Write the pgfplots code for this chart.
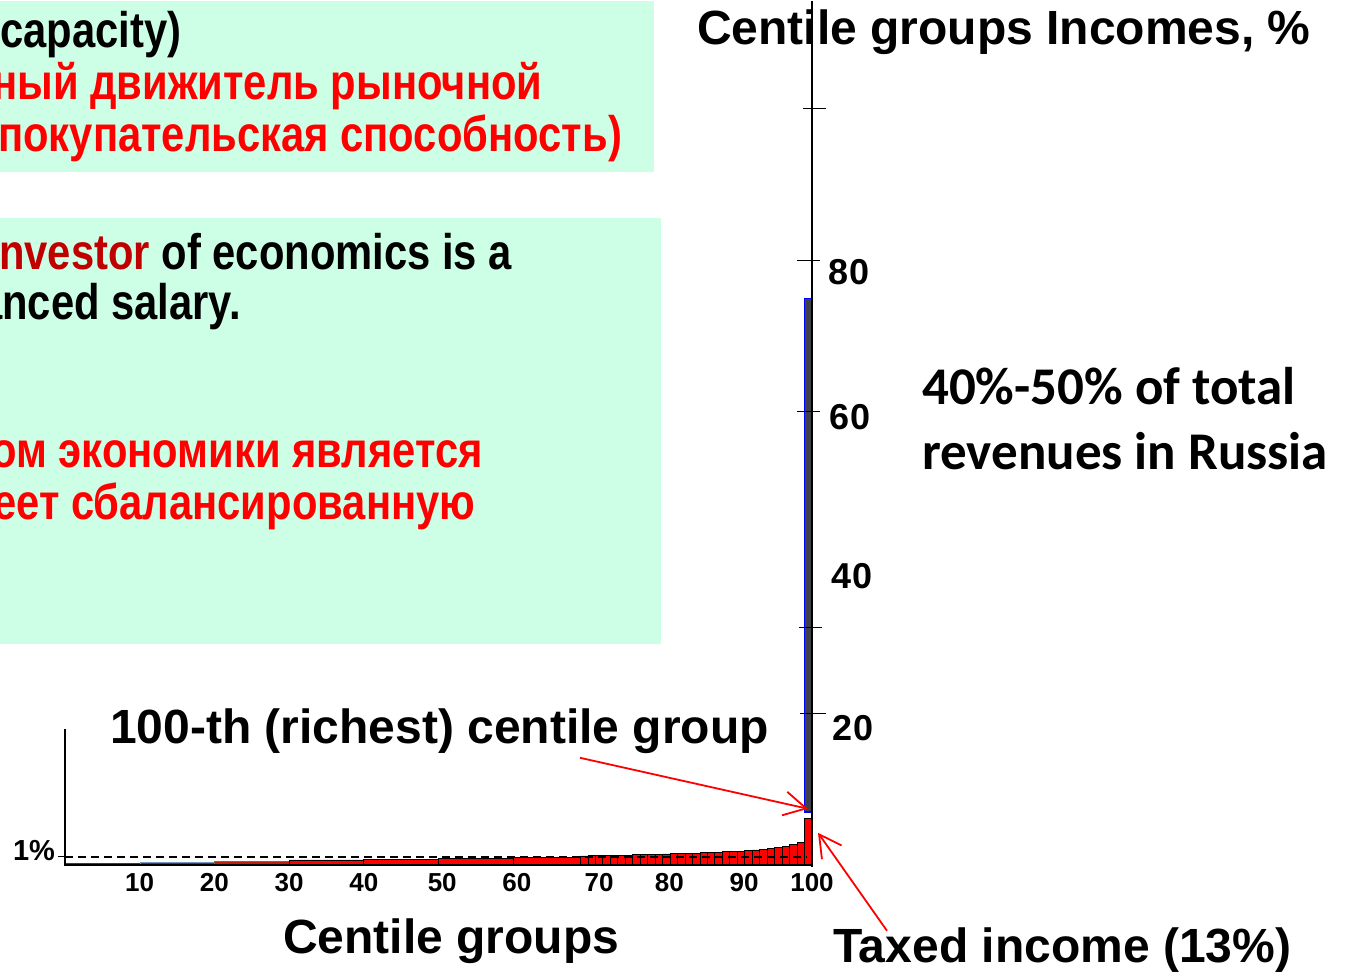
\documentclass[border=0pt]{standalone}
\usepackage{fontspec}
\setmainfont{Liberation Sans}
\newfontfamily\narrowfont{Liberation Sans}[FakeStretch=0.835]
\newfontfamily\carlito{Carlito}
\usepackage{pgfplots}
\pgfplotsset{compat=1.18}
\usetikzlibrary{arrows.meta}
\definecolor{mint}{RGB}{204,255,230}
\definecolor{darkred}{RGB}{192,0,0}
\definecolor{barblue}{RGB}{64,64,72}
\begin{document}
\begin{tikzpicture}
\path (0,0) rectangle (1345pt,970pt);
% background boxes and text (pixel coordinates, y downward)
\begin{scope}[overlay]
\clip (0,0) rectangle (1345pt,970pt);
\begin{scope}[x=1pt,y=-1pt,yshift=970pt]
\fill[mint] (0,0) rectangle (654,171);
\fill[mint] (0,217) rectangle (661,643);
\begin{scope}[every node/.style={inner sep=0pt, anchor=base west, font=\narrowfont\bfseries\fontsize{50}{56}\selectfont}]
\node at (0,47) {capacity)};
\node[red] at (-8,99) {ный движитель рыночной};
\node[red] at (-2,151) {покупательская способность)};
\node at (-1,269) {{\color{darkred}nvestor} of economics is a};
\node at (-21,319) {anced salary.};
\node[red] at (-9,467) {ом экономики является};
\node[red] at (-7,519) {еет сбалансированную};
\end{scope}
\end{scope}
\end{scope}
\begin{axis}[
  at={(0,0)}, anchor=south west,
  width=1345pt, height=970pt, scale only axis,
  xmin=-8.7015, xmax=171.352, ymin=-13.25, ymax=108,
  axis x line=middle, axis y line=none,
  x axis line style={draw=none},
  major tick length=0pt,
  xtick={10,20,30,40,50.5,60.5,71.5,80.9,90.9,100},
  xticklabels={10,20,30,40,50,60,70,80,90,100},
  xticklabel style={anchor=center, yshift=-18pt, font=\bfseries\fontsize{26}{30}\selectfont},
  ytick=\empty,
  clip=false,
]
\addplot[ybar interval, fill={rgb,255:red,70;green,60;blue,120}, draw={rgb,255:red,90;green,40;blue,90}] coordinates {(0,0.25) (10,0)};
\addplot[ybar interval, fill={rgb,255:red,170;green,20;blue,40}, draw={rgb,255:red,120;green,150;blue,190}] coordinates {(10,0.3) (20,0)};
\addplot[ybar interval, fill={rgb,255:red,190;green,30;blue,10}, draw={rgb,255:red,120;green,110;blue,40}] coordinates {(20,0.4) (30,0)};
\addplot[ybar interval, fill=red, draw=black, line width=0.8pt] coordinates {
(30,0.6) (40,0.65) (50,0.75) (60,0.95)
(69,1.1) (70,1.12) (71,1.14) (72,1.16) (73,1.18) (74,1.2) (75,1.22) (76,1.24) (77,1.26) (78,1.29) (79,1.32)
(80,1.35) (81,1.38) (82,1.41) (83,1.44) (84,1.47) (85,1.5) (86,1.54) (87,1.58) (88,1.62) (89,1.67)
(90,1.72) (91,1.78) (92,1.85) (93,1.94) (94,2.05) (95,2.17) (96,2.32) (97,2.52) (98,2.8) (99,5.75) (100,0)};
\addplot[fill=barblue, draw=blue, line width=1.1pt] coordinates {(98.95,6.6) (98.95,70.75) (100,70.75) (100,6.6)} --cycle;
% 1% dashed reference line
\addplot[black, line width=2pt, dash pattern=on 8pt off 5pt] coordinates {(0,1) (99.3,1)};
\end{axis}
\begin{scope}[x=1pt,y=-1pt,yshift=970pt]
% axes
\draw[line width=2.2pt] (65,864) -- (812,864);
\draw[line width=1.5pt] (65,728) -- (65,865);
\draw[line width=1.2pt] (58,856) -- (65,856);
\node[font=\bfseries\fontsize{29}{32}\selectfont, inner sep=0pt] at (34,850) {1\%};
% right axis
\draw[line width=1.6pt] (812,0) -- (812,866);
\foreach \yy/\xa/\xb in {108/803/826, 260/797/820, 411/797/820, 627/799/822, 713/800/826}
  \draw[line width=1pt] (\xa,\yy) -- (\xb,\yy);
\begin{scope}[every node/.style={inner sep=0pt, font=\bfseries\fontsize{36}{40}\selectfont}]
\node at (849,271) {80};
\node at (850,416) {60};
\node at (852,575) {40};
\node at (853,727) {20};
\end{scope}
% titles and labels
\begin{scope}[every node/.style={inner sep=0pt, anchor=base west, font=\bfseries\fontsize{48}{56}\selectfont}]
\node at (697,44) {Centile groups Incomes, \%};
\node at (110,743) {100-th (richest) centile group};
\node at (283,953) {Centile groups};
\node at (833,962) {Taxed income (13\%)};
\node[font=\carlito\bfseries\fontsize{53}{60}\selectfont] at (922,404) {40\%-50\% of total};
\node[font=\carlito\bfseries\fontsize{53}{60}\selectfont] at (922,469) {revenues in Russia};
\end{scope}
% arrows
\draw[red, line width=1.8pt, -{Straight Barb[length=22pt,width=24pt,line width=1.8pt]}] (580,757) -- (808,808);
\draw[red, line width=1.8pt, -{Straight Barb[length=22pt,width=24pt,line width=1.8pt]}] (887,930) -- (818,832);
\end{scope}
\end{tikzpicture}
\end{document}
